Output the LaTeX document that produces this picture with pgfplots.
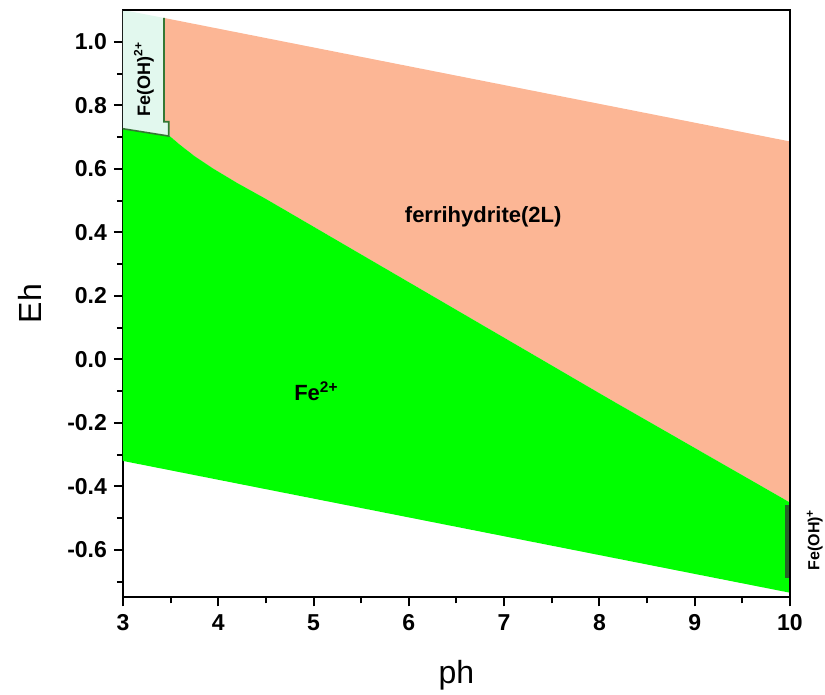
\documentclass[border=0pt]{standalone}
\usepackage{fontspec}
\setmainfont{Liberation Sans}
\setsansfont{Liberation Sans}
\usepackage{pgfplots}
\pgfplotsset{compat=1.18}
\definecolor{Ferri}{RGB}{252,182,149}
\definecolor{FeTwo}{RGB}{0,255,0}
\definecolor{FeOHtwo}{RGB}{226,248,238}
\definecolor{EdgeGreen}{RGB}{52,120,52}
\definecolor{FeOHone}{RGB}{40,100,40}
\begin{document}
\begin{tikzpicture}
\begin{axis}[
    scale only axis,
    width=333.5pt, height=293.75pt,
    xmin=3, xmax=10, ymin=-0.75, ymax=1.1,
    axis line style={line width=1pt},
    every tick/.style={black, line width=1pt},
    tick align=outside, tick pos=left,
    major tick length=4.5pt, minor tick length=3pt,
    xtick={3,4,...,10}, minor xtick={3.5,4.5,...,9.5},
    ytick={-0.6,-0.4,-0.2,0,0.2,0.4,0.6,0.8,1.0},
    yticklabels={-0.6,-0.4,-0.2,0.0,0.2,0.4,0.6,0.8,1.0},
    minor ytick={-0.7,-0.5,-0.3,-0.1,0.1,0.3,0.5,0.7,0.9},
    /pgf/number format/assume math mode=true,
    tick label style={font=\fontsize{11.5}{13}\selectfont\bfseries},
    xticklabel style={yshift=-0.5pt},
    xlabel={ph}, ylabel={Eh},
    label style={font=\fontsize{16}{18}\selectfont},
    xlabel style={yshift=-8pt},
    ylabel style={yshift=6pt},
    clip=false,
]
% ferrihydrite(2L)
\addplot[fill=Ferri, draw=none] coordinates {
    (3.43,1.075) (10,0.686) (10,-0.451) (8.11,-0.126) (4.5,0.505)
    (4.2,0.555) (3.95,0.60) (3.75,0.64) (3.6,0.675) (3.49,0.703)
    (3.48,0.748) (3.43,0.748)
} -- cycle;
% Fe2+
\addplot[fill=FeTwo, draw=none] coordinates {
    (3,0.726) (3.49,0.703) (3.6,0.675) (3.75,0.64) (3.95,0.60) (4.2,0.555)
    (4.5,0.505) (8.11,-0.126) (10,-0.451) (10,-0.735) (3,-0.32)
} -- cycle;
% Fe(OH)2+
\addplot[fill=FeOHtwo, draw=none] coordinates {
    (3,1.10) (3.43,1.075) (3.43,0.748) (3.48,0.748) (3.48,0.703) (3,0.726)
} -- cycle;
\addplot[draw=EdgeGreen, line width=0.8pt] coordinates {
    (3.43,1.075) (3.43,0.748) (3.48,0.748) (3.48,0.703) (3,0.726)
};
% Fe(OH)+
\addplot[fill=FeOHone, draw=none] coordinates {
    (9.95,-0.46) (10,-0.46) (10,-0.688) (9.95,-0.688)
} -- cycle;
\draw[line width=1pt] (rel axis cs:0,1) -- (rel axis cs:1,1) -- (rel axis cs:1,0);
\node[font=\fontsize{11}{13}\selectfont\bfseries] at (axis cs:6.78,0.448) {ferrihydrite(2L)};
\node[font=\fontsize{11}{13}\selectfont\bfseries] at (axis cs:5.03,-0.10) {Fe\textsuperscript{2+}};
\node[font=\fontsize{9}{11}\selectfont\bfseries, rotate=90] at (axis cs:3.22,0.883) {Fe(OH)\textsuperscript{2+}};
\node[font=\fontsize{8}{10}\selectfont\bfseries, rotate=90] at (axis cs:10.26,-0.568) {Fe(OH)\textsuperscript{+}};
\coordinate (bbSW) at (rel axis cs:-0.1844,-0.1651);
\coordinate (bbNE) at (rel axis cs:1.0525,1.017);
\end{axis}
\pgfresetboundingbox
\path[use as bounding box] (bbSW) rectangle (bbNE);
\end{tikzpicture}
\end{document}
